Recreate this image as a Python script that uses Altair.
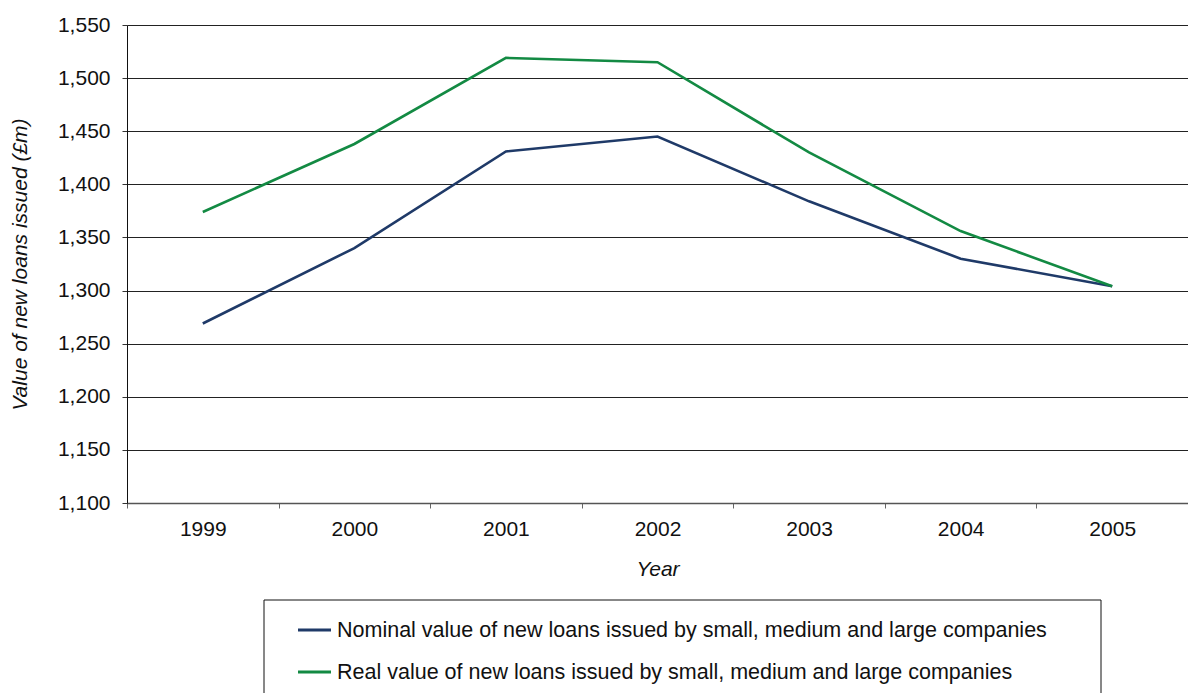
import altair as alt
import pandas as pd

# Annual values of new loans (£m)
years = ["1999", "2000", "2001", "2002", "2003", "2004", "2005"]
nominal = [1269, 1340, 1431, 1445, 1384, 1330, 1304]
real = [1374, 1438, 1519, 1515, 1430, 1356, 1304]

series_names = [
    "Nominal value of new loans issued by small, medium and large companies",
    "Real value of new loans issued by small, medium and large companies",
]
series_colors = ["#1F3A68", "#138A43"]
y_ticks = list(range(1100, 1551, 50))

FONT = "Liberation Sans"
FS = 21
W, H = 1061, 478

rows = []
for name, vals in zip(series_names, [nominal, real]):
    for yr, v in zip(years, vals):
        rows.append({"year": yr, "value": v, "series": name})
df = pd.DataFrame(rows)

x_enc = alt.X(
    "year:O",
    sort=years,
    scale=alt.Scale(type="band", paddingInner=0, paddingOuter=0),
    bandPosition=0.5,
    axis=alt.Axis(
        title="Year",
        tickBand="extent",
        labelAngle=0,
        labelFont=FONT,
        labelFontSize=FS,
        labelColor="#111",
        labelPadding=10,
        tickSize=5,
        tickColor="#666",
        domainColor="#555",
        domainWidth=1.5,
        titleFont=FONT,
        titleFontSize=FS,
        titleFontStyle="italic",
        titleFontWeight="normal",
        titleColor="#111",
        titlePadding=19,
    ),
)
y_enc = alt.Y(
    "value:Q",
    scale=alt.Scale(domain=[1100, 1550], nice=False, zero=False),
    axis=alt.Axis(
        title="Value of new loans issued (£m)",
        values=y_ticks,
        format=",.0f",
        grid=True,
        gridColor="#222",
        gridWidth=1,
        labelFont=FONT,
        labelFontSize=FS,
        labelColor="#111",
        labelPadding=12,
        tickSize=5,
        tickColor="#333",
        domainColor="#111",
        titleFont=FONT,
        titleFontSize=FS,
        titleFontStyle="italic",
        titleFontWeight="normal",
        titleColor="#111",
        titleX=-107,
        titleY=H / 2,
        titleAngle=-90,
        titleAlign="center",
        titleBaseline="middle",
    ),
)

color_scale = alt.Scale(domain=series_names, range=series_colors)

layers = []
for name in series_names:
    layers.append(
        alt.Chart(df)
        .transform_filter(alt.datum.series == name)
        .mark_line(strokeWidth=2.6)
        .encode(
            x=x_enc,
            y=y_enc,
            color=alt.Color("series:N", scale=color_scale, legend=None),
        )
    )

# Legend panel below the axis
legend_df = pd.DataFrame({"series": series_names})
box = (
    alt.Chart(legend_df.head(1))
    .mark_rect(fillOpacity=0, stroke="#111", strokeWidth=1)
    .encode(x=alt.value(137), x2=alt.value(974), y=alt.value(575), y2=alt.value(760))
)
layers.append(box)
for i, (name, col) in enumerate(zip(series_names, series_colors)):
    ypos = 605 + 42 * i
    one = legend_df.iloc[[i]]
    layers.append(
        alt.Chart(one)
        .mark_rule(color=col, strokeWidth=3)
        .encode(x=alt.value(171), x2=alt.value(204), y=alt.value(ypos))
    )
    layers.append(
        alt.Chart(one)
        .mark_text(align="left", baseline="middle", font=FONT, fontSize=21.5, color="#111")
        .encode(x=alt.value(210), y=alt.value(ypos + 1), text="series:N")
    )

chart = (
    alt.layer(*layers)
    .properties(
        width=W,
        height=H,
        autosize=alt.AutoSizeParams(type="none"),
        padding={"left": 127, "top": 25, "right": 0, "bottom": 190},
        background="white",
    )
    .configure_view(stroke=None)
)

chart.save("out.html", embed_options={"renderer": "svg", "actions": False})
